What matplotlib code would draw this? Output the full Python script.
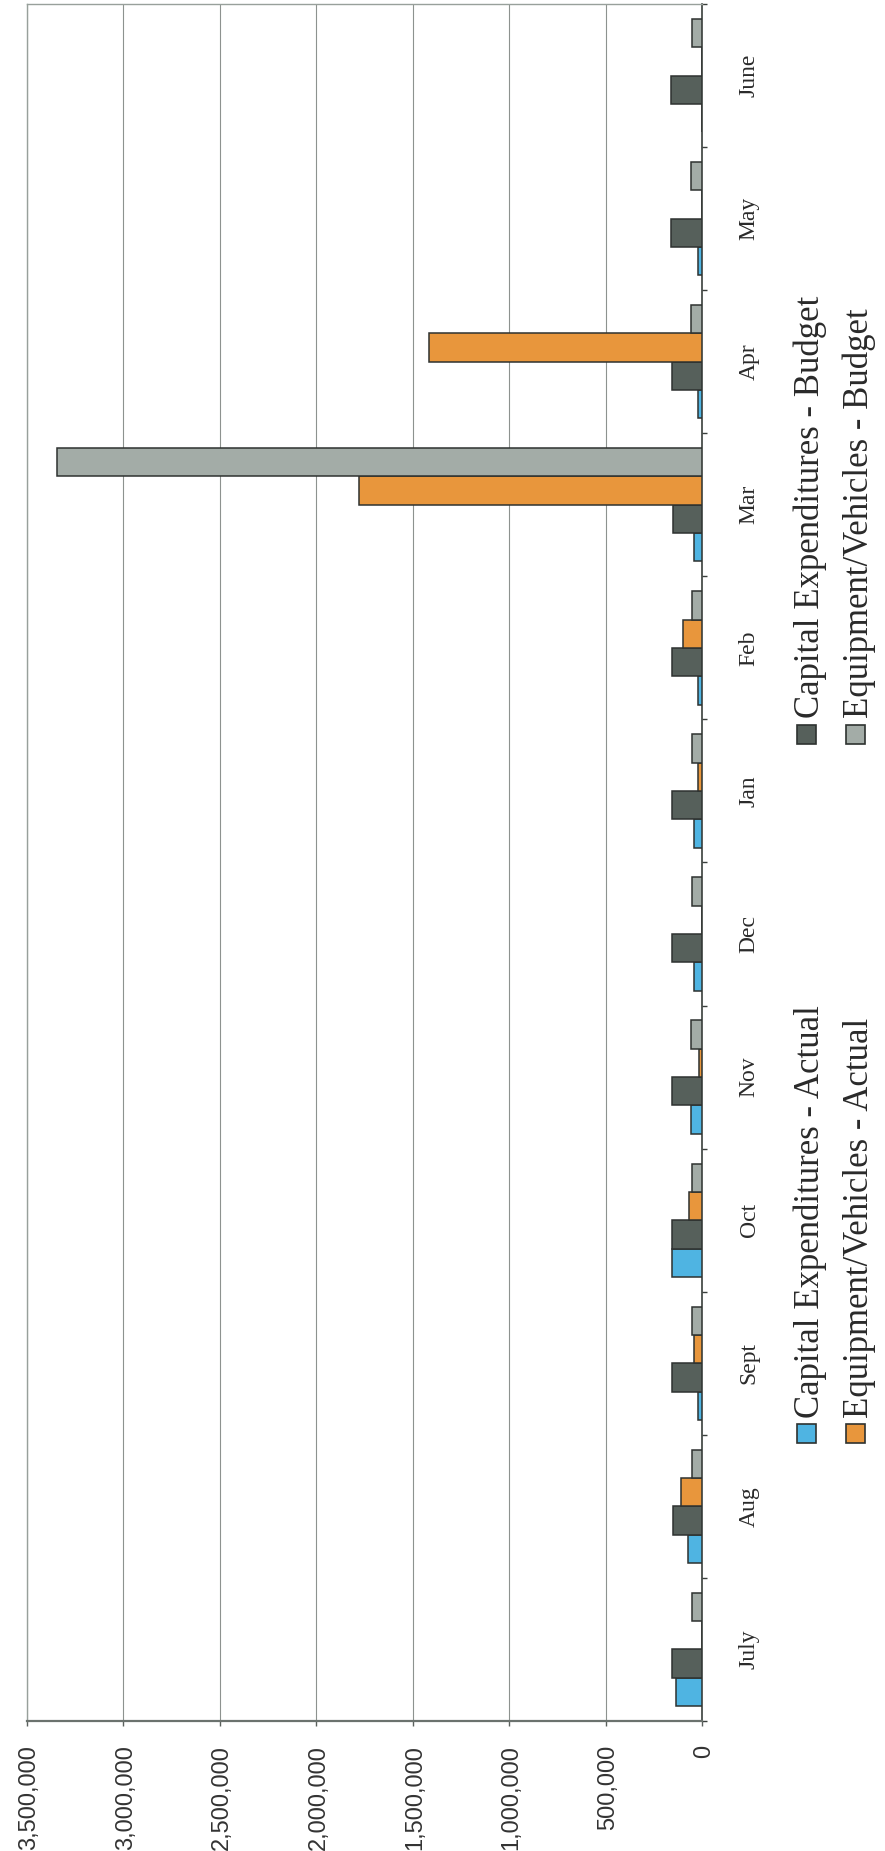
import matplotlib
matplotlib.use('Agg')
from matplotlib import pyplot as plt
from matplotlib.patches import Rectangle
import numpy as np

# months in fiscal order, July first
months = ['July', 'Aug', 'Sept', 'Oct', 'Nov', 'Dec', 'Jan', 'Feb', 'Mar', 'Apr', 'May', 'June']

capex_actual = [134000, 72000, 20000, 155000, 55000, 40000, 40000, 20000, 41000, 20000, 20000, 0]
capex_budget = [155000, 152000, 157000, 155000, 155000, 158000, 157000, 155000, 152000, 157000, 160000, 159000]
equip_actual = [0, 107000, 41000, 69000, 17000, 0, 22000, 98000, 1776000, 1417000, 0, 0]
equip_budget = [52000, 50000, 52000, 52000, 55000, 52000, 53000, 52000, 3343000, 57000, 57000, 52000]

value_ticks = [0, 500000, 1000000, 1500000, 2000000, 2500000, 3000000, 3500000]

series = [
    ('Capital Expenditures - Actual', capex_actual, '#4fb4e2'),
    ('Capital Expenditures - Budget', capex_budget, '#56605b'),
    ('Equipment/Vehicles - Actual', equip_actual, '#e8963c'),
    ('Equipment/Vehicles - Budget', equip_budget, '#a3aca7'),
]

W, H = 885, 1851
fig = plt.figure(figsize=(W / 100, H / 100), dpi=100)
ax = fig.add_axes([27 / W, 130 / H, 675 / W, 1717 / H])

# the page is turned sideways: months run bottom to top, values grow to the left
y = np.arange(len(months))
bw = 0.198
for k, (name, vals, col) in enumerate(series):
    ax.barh(y + (k - 1.5) * bw, vals, height=bw, color=col,
            edgecolor='#2e3230', linewidth=1.1, zorder=3)

ax.set_xlim(3500000, 0)
ax.set_ylim(-0.5, len(months) - 0.5)

ax.set_xticks(value_ticks, labels=['{:,}'.format(v) for v in value_ticks])
ax.xaxis.grid(True, color='#8d928f', linewidth=0.8)
ax.set_axisbelow(True)
ax.tick_params(axis='x', length=3.6, width=1.0, color='#5a605c', pad=13.5)
plt.setp(ax.get_xticklabels(), rotation=90, rotation_mode='anchor', ha='right',
         va='center_baseline', fontsize=17, family='Liberation Sans', color='#333333')

ax.set_yticks(y, labels=months)
ax.set_yticks(np.arange(-0.5, len(months), 1), minor=True)
ax.tick_params(axis='y', which='both', left=False, right=True, labelleft=False, labelright=True)
ax.tick_params(axis='y', which='major', length=0, pad=38)
ax.tick_params(axis='y', which='minor', length=3.6, width=1.0, color='#3a3f3c')
plt.setp(ax.get_yticklabels(), rotation=90, rotation_mode='anchor', ha='center',
         va='baseline', fontsize=17, family='Liberation Serif', color='#2a2a2a')

ax.spines['right'].set_color('#3a3f3c')
ax.spines['right'].set_linewidth(1.2)
ax.spines['bottom'].set_color('#6b726e')
ax.spines['bottom'].set_linewidth(1.6)
for s in ['top', 'left']:
    ax.spines[s].set_color('#98a09b')
    ax.spines[s].set_linewidth(1.0)


# legend laid out by hand so the text can run upwards like the rest
def px(x, yy):
    return x / W, (H - yy) / H


rows = {0: 806, 1: 855}      # marker centre x for capex / equipment
cols = {0: 1433.5, 1: 734.5}  # marker centre y for actual / budget
for k, (name, vals, col) in enumerate(series):
    cx = rows[k // 2]
    cy = cols[k % 2]
    x0, y0 = px(cx - 9.5, cy + 9.5)
    fig.add_artist(Rectangle((x0, y0), 19 / W, 19 / H, transform=fig.transFigure,
                             facecolor=col, edgecolor='#2e3230', linewidth=1.2))
    tx, ty = px(cx + 13, cy - 16)
    fig.text(tx, ty, name, rotation=90, rotation_mode='anchor', ha='left', va='baseline',
             fontsize=25, family='Liberation Serif', color='#2a2a2a')

fig.savefig('out.png', dpi=100)
